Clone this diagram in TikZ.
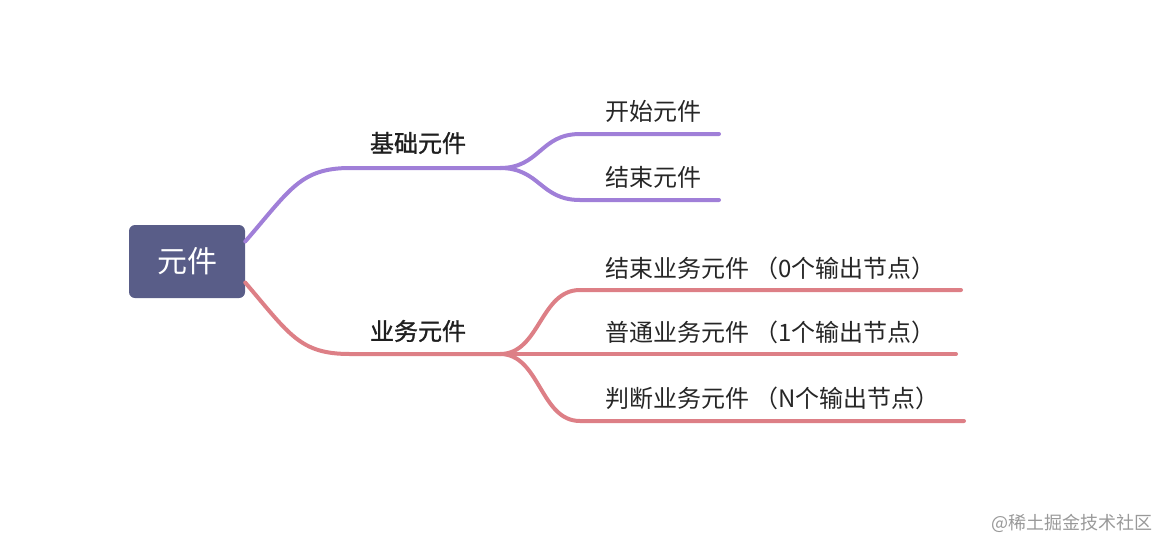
\documentclass[tikz,border=0pt]{standalone}
\usepackage{fontspec}
\newfontfamily\cjk{Noto Sans CJK SC}
\newfontfamily\cjkmid[FakeBold=1.2]{Noto Sans CJK SC}
\definecolor{rootfill}{HTML}{595D88}
\definecolor{jichu}{HTML}{A07FD8}
\definecolor{yewu}{HTML}{DD7F86}
\tikzset{
	branch/.style={line width=4pt,line cap=round},
	leaf/.style={anchor=west,inner sep=0pt,font=\cjk\fontsize{24}{28}\selectfont,text=black!85},
	mid/.style={inner sep=0pt,font=\cjkmid\fontsize{24}{28}\selectfont,text=black!88}
}
\begin{document}
\begin{tikzpicture}[x=1pt,y=-1pt]
		\useasboundingbox (0,0) rectangle (1168,550);
		% root
		\node[fill=rootfill,rounded corners=6pt,minimum width=116pt,minimum height=73pt,inner sep=0pt,
			text=white,font=\cjk\fontsize{30}{34}\selectfont] (root) at (187,261.5) {元件};
		\coordinate (ja) at (500,168);
		\coordinate (jb) at (500,354);
		% first level
		\draw[branch,jichu] ([yshift=20pt]root.east) .. controls (290,190) and (300,168) .. (350,168) -- (ja);
		\draw[branch,yewu] ([yshift=-21pt]root.east) .. controls (290,335) and (300,354) .. (350,354) -- (jb);
		\node[mid] (jichu) at (418,143) {基础元件};
		\node[mid] (yewu) at (418,331) {业务元件};
		% second level
		\coordinate (a1) at (719,134);
		\coordinate (a2) at (719,200);
		\coordinate (b1) at (961,290);
		\coordinate (b2) at (956,354);
		\coordinate (b3) at (964,421);
		\draw[branch,jichu] (ja) .. controls (540,168) and (540,134) .. (580,134) -- (a1);
		\draw[branch,jichu] (ja) .. controls (540,168) and (540,200) .. (580,200) -- (a2);
		\draw[branch,yewu] (jb) .. controls (540,354) and (540,290) .. (580,290) -- (b1);
		\draw[branch,yewu] (jb) -- (b2);
		\draw[branch,yewu] (jb) .. controls (540,354) and (540,421) .. (580,421) -- (b3);
		\node[leaf] (kaishi) at (605,111) {开始元件};
		\node[leaf] (jieshu) at (605,177) {结束元件};
		\node[leaf] (jsyw) at (605,268) {结束业务元件 （0个输出节点）};
		\node[leaf] (ptyw) at (605,332) {普通业务元件 （1个输出节点）};
		\node[leaf] (pdyw) at (605,398) {判断业务元件 （N个输出节点）};
		% watermark
		\node[anchor=east,inner sep=0pt,text=black!40,font=\cjk\fontsize{18}{20}\selectfont] (wm) at (1153,523) {@稀土掘金技术社区};
\end{tikzpicture}
\end{document}
